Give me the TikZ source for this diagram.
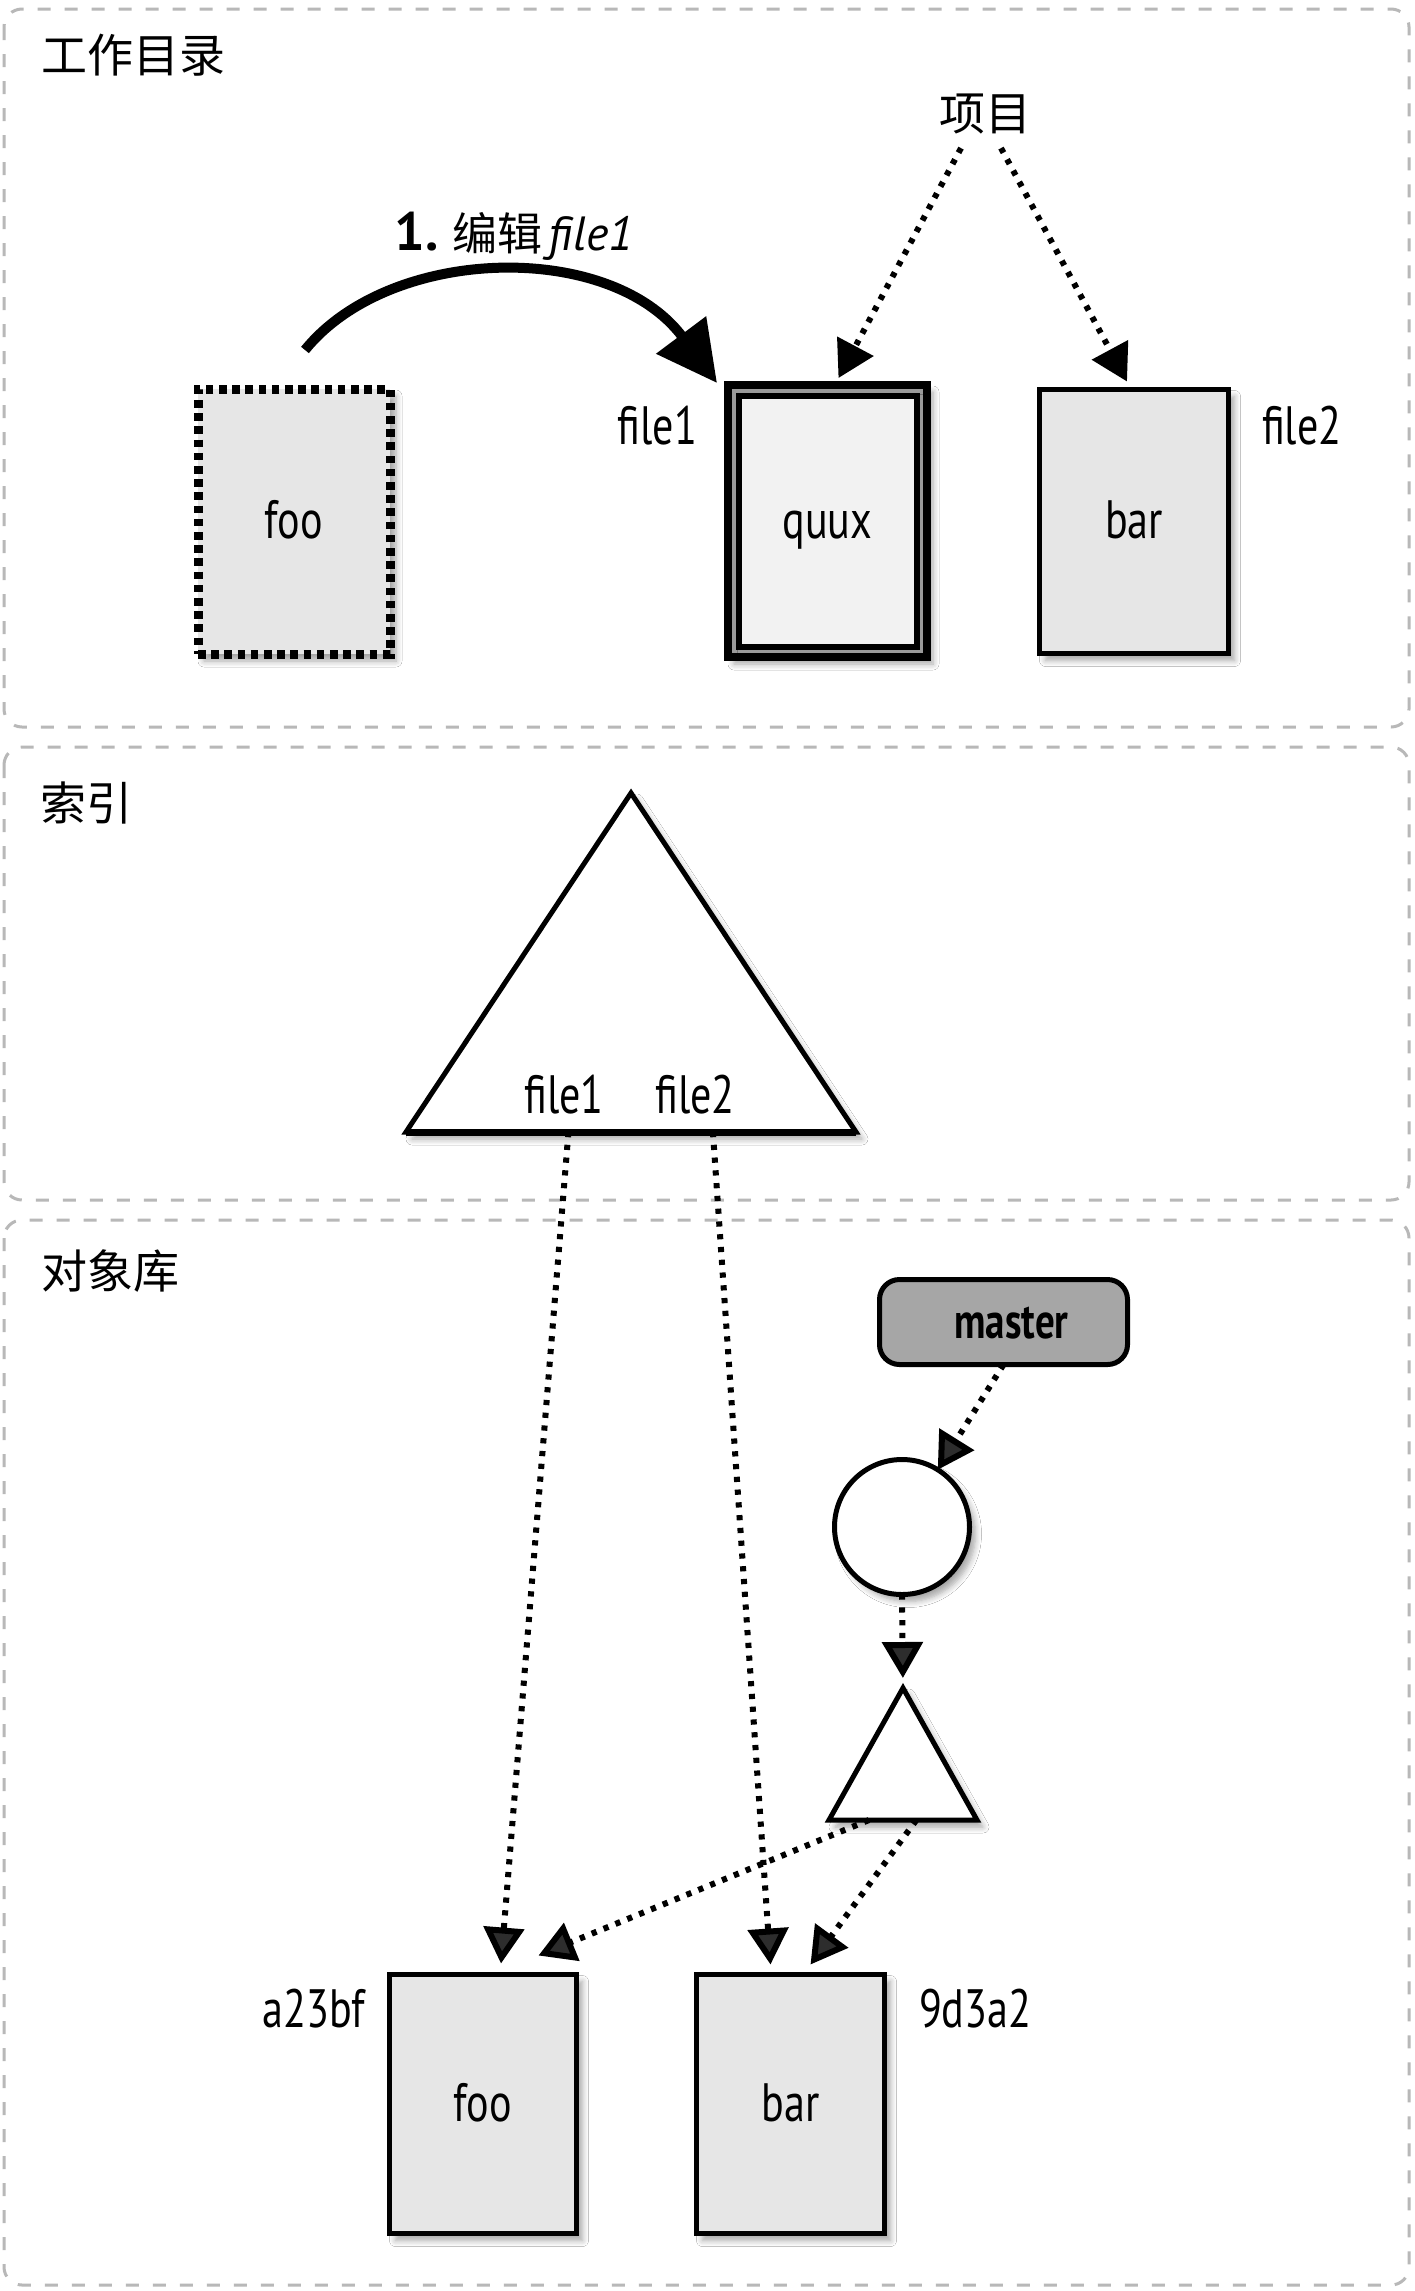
\documentclass[tikz,border=0pt]{standalone}
\usepackage{fontspec}
\setmainfont{PT Sans}
\newfontfamily\cond{PT Sans}[FakeStretch=0.78]
\newfontfamily\cjk{Noto Sans CJK SC}
\usetikzlibrary{arrows.meta,shadows.blur,calc}
\definecolor{boxgray}{HTML}{E6E6E6}
\definecolor{quuxfill}{HTML}{F2F2F2}
\definecolor{quuxring}{HTML}{9A9A9A}
\definecolor{mastergray}{HTML}{A6A6A6}
\definecolor{panelgray}{HTML}{B8B8B8}
\begin{document}
\begin{tikzpicture}[x=0.5pt,y=-0.5pt,
  panel/.style={draw=panelgray, line width=1.5pt, dash pattern=on 6.5pt off 7pt, rounded corners=9pt},
  cjklabel/.style={inner sep=0pt, outer sep=0pt, font=\cjk\fontsize{23}{27}\selectfont},
  lbl/.style={inner sep=0pt, outer sep=0pt, font=\cond\fontsize{27}{30}\selectfont},
  shad/.style={blur shadow={shadow xshift=3pt, shadow yshift=-3.5pt, shadow blur radius=3pt, shadow blur steps=6, shadow opacity=35}},
  box/.style={draw, line width=2.5pt, fill=boxgray, inner sep=0pt, outer sep=0pt,
    font=\cond\fontsize{27}{30}\selectfont, text height=17pt, text depth=0pt, shad},
  dotbox/.style={line width=4.5pt, dash pattern=on 3.8pt off 2.8pt},
  dotarrow/.style={draw, line width=3pt, dash pattern=on 2.6pt off 3.8pt,
    -{Triangle[length=18pt,width=20pt]}},
]
\useasboundingbox (0,0) rectangle (1414,2291);
\fill[white] (0,0) rectangle (1414,2291);

% panels
\draw[panel] (4,9) rectangle (1409,727);
\draw[panel] (4,747) rectangle (1409,1200);
\draw[panel] (4,1220) rectangle (1409,2285);

\node[cjklabel] (lw) at (133,55) {工作目录};
\node[cjklabel] (li) at (86,803) {索引};
\node[cjklabel] (lo) at (110,1271) {对象库};

% ---- working directory
\node[box, dotbox, minimum width=96pt, minimum height=132.5pt] (foo1) at (294,521.5) {foo};
\node[draw, line width=4pt, fill=quuxring, inner sep=0pt, outer sep=0pt, minimum width=99.5pt, minimum height=136pt, shad] (qo) at (827.5,521) {};
\node[box, fill=quuxfill, line width=3pt, minimum width=89pt, minimum height=125.5pt, blur shadow={shadow opacity=0}] (qi) at (827.5,521) {quux};
\node[box, minimum width=94.5pt, minimum height=132pt] (bar1) at (1134,521.5) {bar};

\node[lbl, anchor=base east] (f1) at (697,444) {file1};
\node[lbl, anchor=base west] (f2) at (1262,444) {file2};

\node[cjklabel] (proj) at (985,114) {项目};
\draw[dotarrow] ($(proj.south)+(-24,14)$) -- ($(qo.north)+(11,-7)$);
\draw[dotarrow] ($(proj.south)+(16,14)$) -- ($(bar1.north)+(-7,-8)$);

\node[anchor=base, inner sep=0pt] (edit) at (514,250)
  {{\bfseries\fontsize{27}{30}\selectfont 1.}\hspace{7pt}{\cjk\fontsize{22.5}{26}\selectfont 编辑}\hspace{3pt}{\itshape\fontsize{24}{28}\selectfont file1}};
\draw[line width=5pt, -{Triangle[length=30pt,width=30pt]}]
  ($(foo1.north)+(11,-39)$) .. controls +(85,-105) and +(-107,-143) .. ($(qo.north west)+(-11,-2)$);

% ---- index
\coordinate (TA) at (631,793);
\coordinate (TL) at (406,1132);
\coordinate (TR) at (856,1132);
\draw[line width=2.5pt, fill=white, line join=miter, shad] (TA) -- (TR) -- (TL) -- cycle;
\draw[line width=3.5pt] (TL) -- (TR);
\node[lbl, anchor=base] (tf1) at (564,1113) {file1};
\node[lbl, anchor=base] (tf2) at (695,1113) {file2};
\coordinate (t1) at ($(TL)!0.361!(TR)$);
\coordinate (t2) at ($(TL)!0.682!(TR)$);

% ---- object store
\node[box, minimum width=93.5pt, minimum height=129.5pt] (foo2) at (483,2104) {foo};
\node[box, minimum width=94pt, minimum height=129.5pt] (bar2) at (790.5,2104) {bar};
\node[lbl, anchor=base east] (h1) at (365,2027) {a23bf};
\node[lbl, anchor=base west] (h2) at (919,2027) {9d3a2};

\node[draw, line width=2.5pt, rounded corners=10pt, fill=mastergray, inner sep=0pt, outer sep=0pt,
  minimum width=124pt, minimum height=42.5pt, font=\cond\bfseries\fontsize{25}{28}\selectfont,
  text height=16pt, text depth=0pt] (master) at (1003.5,1322) {\hspace{8pt}master};
\node[circle, draw, line width=2.5pt, fill=white, minimum size=67.5pt, inner sep=0pt, outer sep=0pt, shad] (circ) at (902,1527) {};

\coordinate (SA) at (903,1688);
\coordinate (SL) at (829,1820);
\coordinate (SR) at (977,1820);
\draw[line width=2.5pt, fill=white, line join=miter, shad] (SA) -- (SR) -- (SL) -- cycle;
\coordinate (s1) at ($(SL)!0.27!(SR)$);
\coordinate (s2) at ($(SL)!0.59!(SR)$);

\draw[dotarrow] (t1) -- ($(foo2.north)+(18,-11)$);
\draw[dotarrow] (t2) -- ($(bar2.north)+(-20,-10)$);
\draw[dotarrow] (master.south) -- (circ);
\draw[dotarrow, shorten >=5pt] (circ.south) -- (SA);
\draw[dotarrow] (s1) -- ($(foo2.north east)+(-38,-19)$);
\draw[dotarrow] (s2) -- ($(bar2.north)+(20,-10)$);
\end{tikzpicture}
\end{document}
